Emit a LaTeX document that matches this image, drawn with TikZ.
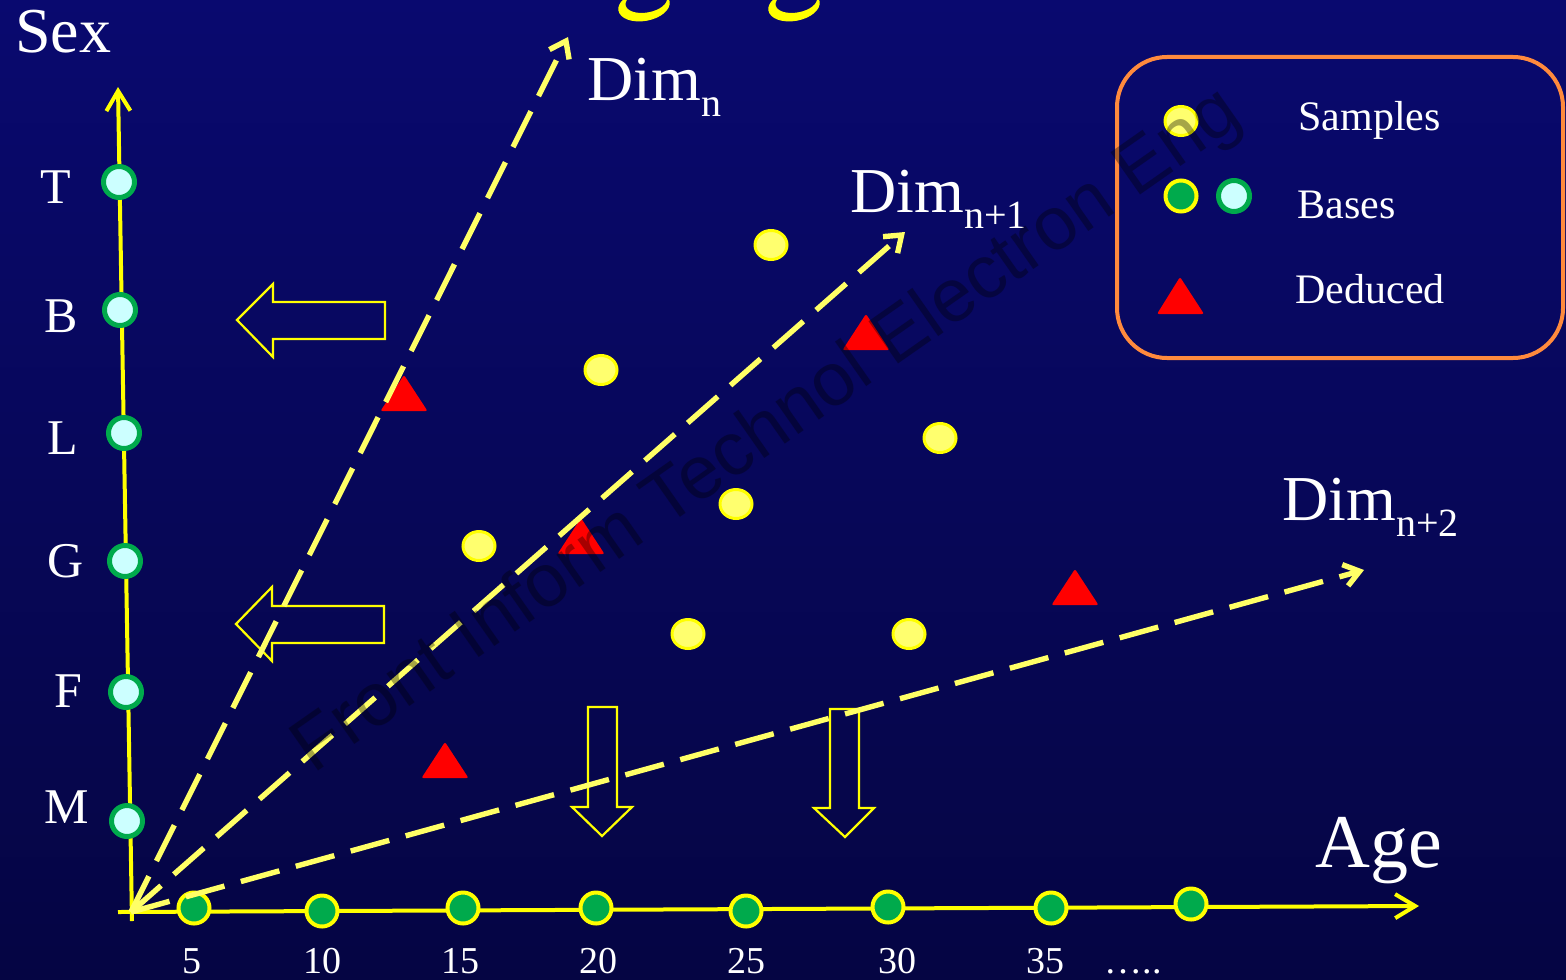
\documentclass[tikz,border=0pt]{standalone}
\usepackage{fontspec}
\setmainfont{Liberation Serif}
\newfontfamily\wmfont{Liberation Sans}
\usetikzlibrary{arrows.meta,shapes.geometric}
\definecolor{bgtop}{HTML}{09096F}
\definecolor{bgbottom}{HTML}{050543}
\definecolor{axisyellow}{HTML}{FFFF00}
\definecolor{dimyellow}{HTML}{FFFF66}
\definecolor{samplefill}{HTML}{FFFF6E}
\definecolor{basecyan}{HTML}{CCFFFF}
\definecolor{basegreen}{HTML}{00AA4C}
\definecolor{dedred}{HTML}{FF0000}
\definecolor{legendorange}{HTML}{FF8A3D}
\newcommand{\dimsub}[1]{Dim\raisebox{-8pt}{\fontsize{20}{20}\selectfont #1}}

\begin{document}
\begin{tikzpicture}[
  x=0.5pt,
  y=-0.5pt,
  axis/.style={draw=axisyellow, line width=2pt, -{Straight Barb[length=10pt,width=12pt]}},
  dimline/.style={draw=dimyellow, line width=2.7pt, dash pattern=on 20pt off 8.5pt,
    -{Straight Barb[length=7.5pt,width=11pt]}},
  sexbase/.style={circle, inner sep=0pt, minimum size=15.5pt, fill=basecyan,
    draw=basegreen, line width=2.5pt},
  agebase/.style={circle, inner sep=0pt, minimum size=15.5pt, fill=basegreen,
    draw=axisyellow, line width=2pt},
  sample/.style={ellipse, inner sep=0pt, minimum width=16pt, minimum height=14.5pt,
    fill=samplefill, draw=axisyellow, line width=1.5pt},
  deduced/.style={fill=dedred, rounded corners=1pt},
  hollowarrow/.style={draw=axisyellow, line width=1.1pt},
  bigtext/.style={text=white, anchor=base west, inner sep=0pt, font=\fontsize{32}{32}\selectfont},
  ticklabel/.style={text=white, anchor=base, inner sep=0pt, font=\fontsize{25}{25}\selectfont},
  numlabel/.style={text=white, anchor=base, inner sep=0pt, font=\fontsize{19}{19}\selectfont},
  legendtext/.style={text=white, anchor=base west, inner sep=0pt, font=\fontsize{21}{21}\selectfont},
  legendbox/.style={draw=legendorange, line width=2pt, rounded corners=25pt}
]
  \useasboundingbox (0,0) rectangle (1566,979);
  \shade[top color=bgtop, bottom color=bgbottom] (0,0) rectangle (1566,979);

  % Samples cut off at the top edge.
  \foreach \x in {644,794}
    \fill[axisyellow, even odd rule, rotate around={10:(\x,6)}]
      (\x,6) ellipse [x radius=26, y radius=15]
      (\x+3,2) ellipse [x radius=21, y radius=11];

  % Axes.
  \coordinate (origin) at (131,912);
  \coordinate (sexfoot) at (132,921);
  \coordinate (sextip) at (118,87);
  \coordinate (agefoot) at (118,912);
  \coordinate (agetip) at (1419,906);
  \draw[axis] (sexfoot) -- (sextip);
  \draw[axis] (agefoot) -- (agetip);

  \node[bigtext] (sexlab) at (15,53) {Sex};
  \node[text=white, anchor=base west, inner sep=0pt, font=\fontsize{38}{38}\selectfont]
    (agelab) at (1315,867) {Age};

  % Bases on the Sex axis.
  \foreach \lab/\x/\y/\lx/\ly in {T/119/182/56/203, B/120/310/61/332, L/124/433/63/454,
                                  G/125/561/66/577, F/126/692/68/707, M/127/821/67/823} {
    \node[sexbase] (s\lab) at (\x,\y) {};
    \node[ticklabel] (t\lab) at (\lx,\ly) {\lab};
  }

  % Bases on the Age axis.
  \foreach \n/\x/\y/\lx in {5/194/908/192, 10/322/911/322, 15/463/908/460, 20/596/908/598,
                            25/746/911/746, 30/888/907/897, 35/1051/908/1045} {
    \node[agebase] (a\n) at (\x,\y) {};
    \node[numlabel] (n\n) at (\lx,973) {\n};
  }
  \node[agebase] (a40) at (1191,904) {};
  \node[numlabel] (ndots) at (1133,973) {…..};

  % Hollow block arrows.
  \draw[hollowarrow] (385,302) -- (273,302) -- (273,284) -- (237,320)
    -- (273,357) -- (273,339) -- (385,339) -- cycle;
  \draw[hollowarrow] (384,606) -- (272,606) -- (272,587) -- (236,624)
    -- (272,661) -- (272,643) -- (384,643) -- cycle;
  \draw[hollowarrow] (588,707) -- (617,707) -- (617,807) -- (632,807)
    -- (602,836) -- (572,807) -- (588,807) -- cycle;
  \draw[hollowarrow] (830,709) -- (859,709) -- (859,808) -- (874,808)
    -- (845,837) -- (814,808) -- (830,808) -- cycle;

  % Deduced points.
  \foreach \x/\y in {404/393, 866/332, 581/536, 1075/587, 445/760}
    \fill[deduced] (\x,\y-18) -- (\x+23.5,\y+18) -- (\x-23.5,\y+18) -- cycle;

  % Samples.
  \foreach \x/\y [count=\i] in {771/245, 601/370, 940/438, 736/504, 479/546, 688/634, 909/634}
    \node[sample] (p\i) at (\x,\y) {};

  % Dimensions.
  \coordinate (dimntip) at (568,37);
  \coordinate (dimnatip) at (905,232);
  \coordinate (dimnbtip) at (1364,570);
  \draw[dimline] (origin) -- (dimntip);
  \draw[dimline] (origin) -- (dimnatip);
  \draw[dimline] (origin) -- (dimnbtip);
  \node[bigtext] (dimn) at (587,100) {\dimsub{n}};
  \node[bigtext] (dimna) at (850,212) {\dimsub{n+1}};
  \node[bigtext] (dimnb) at (1282,520) {\dimsub{n+2}};

  % Legend.
  \draw[legendbox] (1117,57) rectangle (1563,358);
  \node[sample] (lsample) at (1181,121) {};
  \node[agebase] (lbasea) at (1181,196) {};
  \node[sexbase] (lbaseb) at (1234,196) {};
  \fill[deduced] (1180,277) -- (1204,314) -- (1157,314) -- cycle;
  \node[legendtext] (lsamples) at (1298,130) {Samples};
  \node[legendtext] (lbases) at (1297,218) {Bases};
  \node[legendtext] (ldeduced) at (1295,303) {Deduced};

  % Watermark.
  \node[text=black, opacity=0.35, rotate=35, font=\wmfont\fontsize{37.5}{37.5}\selectfont]
    (watermark) at (768,432) {Front Inform Technol Electron Eng};
\end{tikzpicture}
\end{document}
